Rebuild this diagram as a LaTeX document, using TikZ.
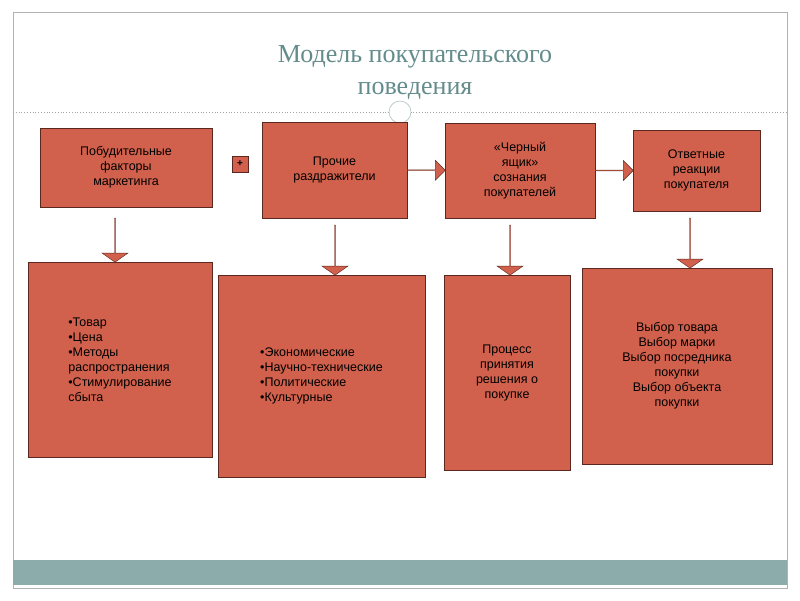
\documentclass[tikz,border=0pt]{standalone}
\usepackage{fontspec}
\setmainfont{Liberation Sans}
\newfontfamily\titlefont{Liberation Serif}
\usetikzlibrary{shapes.arrows,calc}
\definecolor{boxc}{RGB}{209,96,76}
\definecolor{edgec}{RGB}{90,40,30}
\definecolor{band}{RGB}{140,172,172}
\definecolor{titlec}{RGB}{100,140,140}
\tikzset{
 bx/.style={draw=edgec, fill=boxc, line width=0.6pt, align=center, font=\fontsize{12.5}{15}\selectfont},
 darr/.style={single arrow, draw=edgec, fill=boxc, shape border rotate=270, minimum width=26pt, single arrow head extend=5pt, single arrow tip angle=110, inner sep=0pt},
 rarr/.style={single arrow, draw=edgec, fill=boxc, minimum width=20pt, single arrow head extend=4pt, inner sep=0pt},
}
\begin{document}
\begin{tikzpicture}[x=1pt,y=-1pt]
\useasboundingbox (0,0) rectangle (800,600);
\fill[white] (0,0) rectangle (800,600);
\draw[gray!60] (13,12) rectangle (787,588);
\fill[band] (13,560) rectangle (787,585);
\draw[gray!70, dotted, line width=0.8pt] (13,112) -- (787,112);
\draw[titlec!70, fill=white] (400,112) circle (11);
\node[titlec, font=\titlefont\fontsize{26}{32}\selectfont, align=center] (title) at (415,72) {Модель покупательского\\поведения};
\node[bx, minimum width=172pt, minimum height=79pt] (b1) at (126,167.5) {Побудительные\\факторы\\маркетинга};
\node[bx, minimum width=16pt, minimum height=16pt, inner sep=0pt, font=\bfseries] (plus) at (240,164) {+};
\node[bx, minimum width=145pt, minimum height=96pt] (b2) at (334.5,170) {Прочие\\раздражители};
\node[bx, minimum width=150pt, minimum height=95pt] (b3) at (520,170.5) {«Черный\\ящик»\\сознания\\покупателей};
\node[bx, minimum width=127pt, minimum height=81pt] (b4) at (696.5,170.5) {Ответные\\реакции\\покупателя};
\node[bx, minimum width=184pt, minimum height=195pt, align=left] (b5) at (120,359.5) {•Товар\\•Цена\\•Методы\\распространения\\•Стимулирование\\сбыта};
\node[bx, minimum width=207pt, minimum height=202pt, align=left] (b6) at (321.5,376) {•Экономические\\•Научно-технические\\•Политические\\•Культурные};
\node[bx, minimum width=126pt, minimum height=195pt] (b7) at (507,372.5) {Процесс\\принятия\\решения о\\покупке};
\node[bx, minimum width=190pt, minimum height=196pt] (b8) at (677,366) {Выбор товара\\Выбор марки\\Выбор посредника\\покупки\\Выбор объекта\\покупки};
\node[rarr, minimum height=38pt] (r1) at ($(b2.east)!0.5!(b3.west)$) {};
\node[rarr, minimum height=38pt] (r2) at ($(b3.east)!0.5!(b4.west)$) {};
\node[darr, minimum height=44pt] (d1) at (115,240) {};
\node[darr, minimum height=50pt] (d2) at (335,250) {};
\node[darr, minimum height=50pt] (d3) at (510,250) {};
\node[darr, minimum height=50pt] (d4) at (690,243) {};
\end{tikzpicture}
\end{document}
